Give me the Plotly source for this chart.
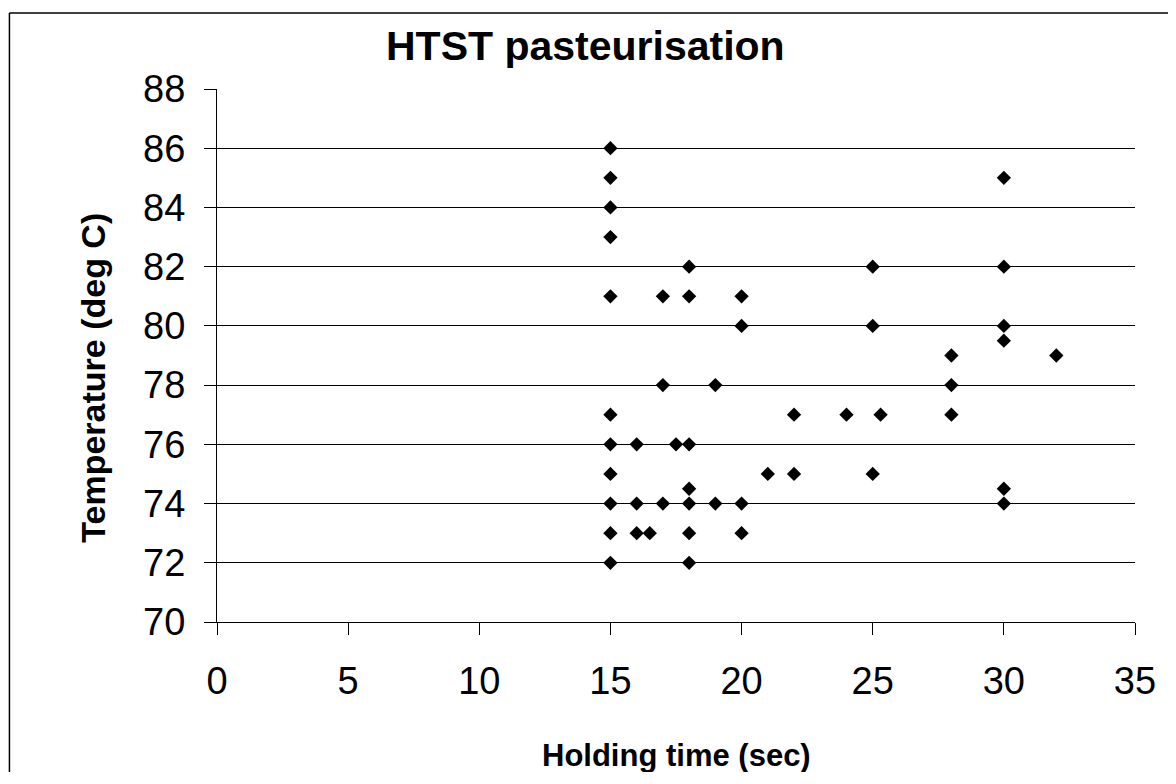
import plotly.graph_objects as go

# Data (holding time in sec, temperature in deg C)
holding_time = [15, 15, 15, 15, 15, 15, 15, 15, 15, 15, 15,
                16, 16, 16, 16.5,
                17, 17, 17, 17.5,
                18, 18, 18, 18, 18, 18, 18,
                19, 19,
                20, 20, 20, 20,
                21, 22, 22, 24,
                25, 25, 25, 25.3,
                28, 28, 28,
                30, 30, 30, 30, 30, 30,
                32]
temperature = [86, 85, 84, 83, 81, 77, 76, 75, 74, 73, 72,
               76, 74, 73, 73,
               81, 78, 74, 76,
               82, 81, 76, 74.5, 74, 73, 72,
               78, 74,
               81, 80, 74, 73,
               75, 77, 75, 77,
               82, 80, 75, 77,
               79, 78, 77,
               85, 82, 80, 79.5, 74.5, 74,
               79]

title_text = "HTST pasteurisation"
x_title = "Holding time (sec)"
y_title = "Temperature (deg C)"
x_ticks = [0, 5, 10, 15, 20, 25, 30, 35]
y_ticks = [70, 72, 74, 76, 78, 80, 82, 84, 86, 88]

FONT = "Liberation Sans, Arial, sans-serif"

fig = go.Figure()
fig.add_trace(go.Scatter(
    x=holding_time, y=temperature, mode="markers",
    marker=dict(symbol="diamond", size=11, color="#000000"),
    showlegend=False,
))

# page body has an 8px margin; keep the figure inside the window
fig.update_layout(
    width=1160, height=764,
    margin=dict(l=209, r=31, t=81, b=150),
    paper_bgcolor="white", plot_bgcolor="white",
    font=dict(family=FONT, color="black"),
    showlegend=False,
)

fig.update_xaxes(
    range=[0, 35], tickvals=x_ticks, ticks="outside", ticklen=12, tickwidth=1,
    tickcolor="black", showline=True, linecolor="black", linewidth=1,
    showgrid=False, zeroline=False, tickfont=dict(size=38, family=FONT),
    ticklabelstandoff=13,
)
fig.update_yaxes(
    range=[70, 88], tickvals=y_ticks, ticks="outside", ticklen=12, tickwidth=1,
    tickcolor="black", showline=True, linecolor="black", linewidth=1,
    showgrid=True, gridcolor="black", gridwidth=1, zeroline=False,
    tickfont=dict(size=38, family=FONT), ticklabelstandoff=11,
)

# Outer chart frame (only left and top edges fall inside the picture)
fig.add_shape(type="line", xref="paper", yref="paper",
              x0=-0.2261, x1=-0.2261, y0=-0.3, y1=1.1426,
              line=dict(color="black", width=1.5), layer="below")
fig.add_shape(type="line", xref="paper", yref="paper",
              x0=-0.2261, x1=1.05, y0=1.1426, y1=1.1426,
              line=dict(color="black", width=1.5), layer="below")

fig.add_annotation(text="<b>" + title_text + "</b>", xref="paper", yref="paper",
                   x=0.4016, y=1.0816, xanchor="center", yanchor="middle",
                   showarrow=False, font=dict(size=41, family=FONT, color="black"))
fig.add_annotation(text="<b>" + x_title + "</b>", xref="paper", yref="paper",
                   x=0.501, y=-0.2514, xanchor="center", yanchor="middle",
                   showarrow=False, font=dict(size=31, family=FONT, color="black"))
fig.add_annotation(text="<b>" + y_title + "</b>", xref="paper", yref="paper",
                   x=-0.1359, y=0.4587, xanchor="center", yanchor="middle",
                   textangle=-90, showarrow=False,
                   font=dict(size=34, family=FONT, color="black"))

fig.write_html("out.html")
